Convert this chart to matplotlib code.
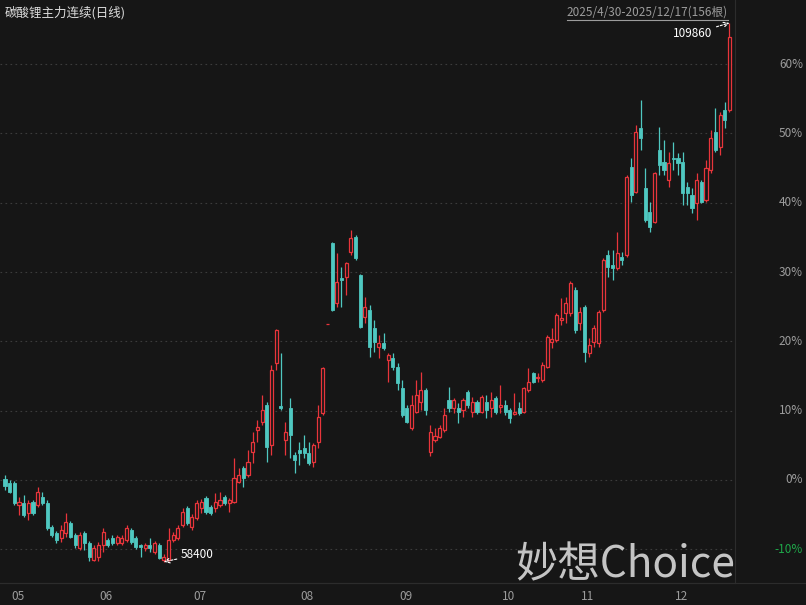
import matplotlib
matplotlib.use('Agg')
import matplotlib.pyplot as plt
import matplotlib.transforms as mtransforms
from matplotlib.patches import Rectangle
from matplotlib.lines import Line2D

plt.rcParams['font.family'] = ['Noto Sans CJK SC', 'DejaVu Sans']

# 日线 OHLC, 2025/4/30 - 2025/12/17, 156 bars
opens = [66300, 65920, 65920, 63820, 64020, 63060, 64100, 63820, 64580, 64020,
         61720, 61140, 60680, 61140, 62100, 60960, 59720, 61140, 60200, 58580,
         58860, 60000, 60480, 60680, 60200, 60200, 60480, 61440, 60680, 60000,
         59720, 60000, 59340, 60000, 58580, 58580, 60480, 60680, 61920, 63540,
         61720, 62580, 63540, 64500, 63640, 63540, 63820, 64580, 64020, 64100,
         66020, 67360, 66680, 68880, 70980, 71740, 73380, 69560, 77380, 73280,
         70040, 73080, 68600, 69080, 69260, 68780, 67920, 69840, 72600, 81100,
         88840, 83120, 85500, 85600, 87980, 89420, 85780, 81780, 82440, 80720,
         78920, 79280, 77660, 77860, 77000, 75000, 73080, 71180, 72700, 73660,
         74800, 68880, 70040, 70320, 70980, 73860, 73080, 73080, 72900, 74620,
         72700, 73660, 72700, 73660, 73080, 74040, 73180, 73380, 72900, 72520,
         73080, 72700, 74800, 76420, 75940, 75760, 77000, 79380, 79580, 81500,
         82160, 82160, 84360, 81200, 82740, 78340, 79380, 79280, 82440, 87700,
         86740, 86460, 87500, 87700, 96100, 93720, 99820, 94100, 91800, 90840,
         97720, 96580, 94860, 96960, 96960, 96580, 94200, 93420, 92660, 94660,
         92960, 95820, 99440, 98020, 101540, 101540]
highs = [66680, 66200, 66120, 64580, 64780, 64300, 64300, 65540, 65060, 64300,
         61920, 61340, 61920, 63060, 62300, 61140, 61240, 61340, 60380, 60000,
         60280, 61620, 60680, 60960, 60960, 60960, 61920, 61620, 60860, 60100,
         60200, 60680, 60380, 60200, 59140, 61620, 61240, 61920, 63540, 63720,
         62960, 64300, 64400, 64680, 63820, 64960, 65060, 64780, 64500, 68320,
         67360, 67540, 69080, 70800, 71940, 74320, 73660, 77200, 80640, 78340,
         71740, 74040, 68880, 69840, 70500, 69840, 69740, 73380, 77000, 81100,
         88940, 87880, 86560, 87040, 90080, 89600, 85880, 83680, 82920, 81500,
         80060, 80240, 78340, 78340, 77380, 75760, 73380, 74320, 75760, 76520,
         75000, 71460, 71180, 71460, 73080, 75100, 74040, 73560, 74040, 74800,
         74140, 73860, 74320, 74320, 74620, 74240, 75280, 73860, 73080, 74520,
         73660, 75100, 76900, 76520, 76420, 77480, 80060, 80720, 82160, 83600,
         83680, 85220, 84640, 82740, 82920, 79780, 81020, 82440, 87420, 88180,
         88180, 89900, 87980, 95340, 96960, 100120, 102500, 96000, 92760, 95620,
         99920, 98680, 97540, 98480, 97440, 97540, 94660, 94100, 95520, 94860,
         96780, 99640, 101740, 101360, 102300, 109860]
lows = [65260, 64960, 63820, 62860, 62680, 62400, 62860, 63640, 63820, 61440,
        60760, 60200, 60280, 60760, 60680, 59720, 59520, 59520, 58480, 58500,
        58520, 59340, 59820, 60000, 60000, 60000, 60280, 60100, 59620, 58860,
        59440, 59340, 59140, 58660, 58400, 58500, 60280, 60480, 61720, 61920,
        61440, 62400, 63060, 62960, 62860, 63160, 63640, 63820, 63160, 64020,
        65920, 65540, 66500, 67840, 69840, 71460, 67920, 68600, 76720, 72900,
        68600, 68320, 66880, 67640, 68320, 67640, 67460, 69260, 72420, 81100,
        82340, 82740, 82740, 83880, 87700, 87220, 80720, 81200, 77960, 78440,
        77860, 78620, 75560, 76720, 74800, 72220, 71660, 70980, 72600, 72900,
        72420, 68500, 69840, 70220, 70800, 72700, 72600, 71660, 72220, 73080,
        72220, 72520, 72600, 72140, 72220, 72520, 72600, 72420, 71660, 72420,
        72420, 72600, 74620, 75480, 75560, 75560, 76900, 78820, 79380, 81020,
        81200, 81880, 80240, 80540, 77480, 77960, 78920, 78920, 82260, 85600,
        85310, 86260, 86740, 87500, 92760, 93620, 97720, 90840, 89900, 90760,
        95340, 95340, 94200, 95820, 95340, 92480, 92480, 91700, 91040, 92660,
        92760, 95520, 97540, 97240, 99820, 101360]
closes = [65640, 65060, 64020, 64100, 62860, 64020, 63060, 65060, 64020, 61620,
          60960, 60480, 61440, 62200, 60760, 60000, 60960, 60200, 58860, 59720,
          60000, 61240, 60000, 60200, 60760, 60680, 61620, 60280, 59820, 59820,
          60000, 59720, 60200, 58760, 58860, 60480, 60960, 61620, 63160, 62100,
          62680, 64020, 64100, 63160, 63060, 64100, 64300, 64020, 64300, 66400,
          66680, 66400, 67920, 69840, 71280, 72900, 69360, 76720, 80540, 73080,
          70800, 70500, 68120, 68780, 68780, 67840, 69560, 72220, 76900, 81100,
          82440, 85120, 85320, 86940, 89320, 87420, 80820, 82740, 78920, 79380,
          79280, 78820, 78140, 77000, 75480, 72420, 71740, 73380, 74320, 74800,
          72900, 70800, 70400, 71180, 72420, 73080, 73860, 72700, 73860, 73380,
          73660, 72700, 74140, 72900, 73860, 72700, 73380, 72700, 72140, 72700,
          72600, 75000, 75560, 75560, 76040, 77200, 79860, 79680, 81960, 81680,
          83120, 85020, 80540, 82260, 78440, 79100, 80720, 82260, 87220, 86560,
          86460, 87880, 87220, 95140, 93420, 99440, 98880, 91040, 90380, 95520,
          96300, 95820, 96480, 96860, 96480, 93620, 93620, 92180, 94860, 92760,
          96000, 98880, 97720, 101060, 100600, 108520]

month_labels = ['05', '06', '07', '08', '09', '10', '11', '12']
month_first_bar = [1, 20, 40, 63, 84, 106, 123, 143]
pct_ticks = [60, 50, 40, 30, 20, 10, 0, -10]
base_price = 66210

bg = '#161616'
up_col = '#e8353b'
dn_col = '#4fc8c1'

fig = plt.figure(figsize=(8.06, 6.05), dpi=100, facecolor=bg)
ax = fig.add_axes([0, 22 / 605, 735 / 806, 583 / 605], facecolor=bg)
ax.set_xlim(-1.07, 156.2)
ax.set_ylim(56373, 112050)
ax.set_xticks([])
ax.set_yticks([])
for s in ['top', 'left']:
    ax.spines[s].set_visible(False)
ax.spines['right'].set_color('#2c2c2c')
ax.spines['bottom'].set_color('#2c2c2c')

# grid
for p in pct_ticks:
    ax.axhline(base_price * (1 + p / 100), color='#3c3c3c', lw=0.8,
               linestyle=(0, (1.5, 3)), zorder=1)

# candles
w = 0.66
for i in range(len(opens)):
    o, h, l, c = opens[i], highs[i], lows[i], closes[i]
    up = c >= o
    col = up_col if up else dn_col
    lo_b, hi_b = min(o, c), max(o, c)
    ax.vlines(i, l, lo_b, color=col, lw=0.9, zorder=2)
    ax.vlines(i, hi_b, h, color=col, lw=0.9, zorder=2)
    if up:
        rect = Rectangle((i - w / 2, lo_b), w, hi_b - lo_b, facecolor=bg,
                         edgecolor=col, lw=0.9, zorder=3)
    else:
        rect = Rectangle((i - w / 2, lo_b), w, hi_b - lo_b, facecolor=col,
                         edgecolor=col, lw=0.6, zorder=3)
    ax.add_patch(rect)

# right percent labels
trans_r = mtransforms.blended_transform_factory(ax.transAxes, ax.transData)
for p in pct_ticks:
    col = '#1fa84a' if p < 0 else '#9c9c9c'
    ax.text(803 / 735, base_price * (1 + p / 100), f'{p}%', transform=trans_r,
            ha='right', va='center', fontsize=8.5, color=col, clip_on=False)

# month labels
trans_m = mtransforms.blended_transform_factory(ax.transData, fig.transFigure)
for lab, idx in zip(month_labels, month_first_bar):
    ax.text(idx + 0.3, 8 / 605, lab, transform=trans_m, ha='left',
            va='center', fontsize=8.5, color='#9c9c9c', clip_on=False)

# low / high annotations
i_low = lows.index(min(lows))
i_high = highs.index(max(highs))
ax.annotate(f'{min(lows)}', xy=(i_low, min(lows)), xytext=(17, 7),
            textcoords='offset pixels', ha='left', va='center', fontsize=8.5,
            color='white',
            arrowprops=dict(arrowstyle='->', color='white', lw=0.8,
                            linestyle=(0, (2, 1.5)), shrinkA=1, shrinkB=0))
ax.annotate(f'{max(highs)}', xy=(i_high, max(highs)), xytext=(-17, -11),
            textcoords='offset pixels', ha='right', va='center', fontsize=8.5,
            color='white',
            arrowprops=dict(arrowstyle='->', color='white', lw=0.8,
                            linestyle=(0, (2, 1.5)), shrinkA=1, shrinkB=0))

# title and range
fig.text(5 / 806, 1 - 13 / 605, '碳酸锂主力连续(日线)', ha='left', va='center',
         fontsize=9, color='#dcdcdc')
rng = fig.text(728 / 806, 1 - 12 / 605, '2025/4/30-2025/12/17(156根)',
               ha='right', va='center', fontsize=8.5, color='#9c9c9c')
fig.canvas.draw()
bb = rng.get_window_extent()
fig.add_artist(Line2D([bb.x0 / 806, bb.x1 / 806], [(605 - 19.5) / 605] * 2,
                      transform=fig.transFigure, color='#9c9c9c', lw=0.8))

# bottom separator
fig.add_artist(Line2D([0, 1], [22 / 605, 22 / 605], transform=fig.transFigure,
                      color='#2c2c2c', lw=0.8))

# watermark
fig.text(735 / 806, 28 / 605, '妙想Choice', ha='right', va='baseline',
         fontsize=30.5, color='#d4d4d4', alpha=0.92)

fig.savefig('out.png', dpi=100, facecolor=bg)
